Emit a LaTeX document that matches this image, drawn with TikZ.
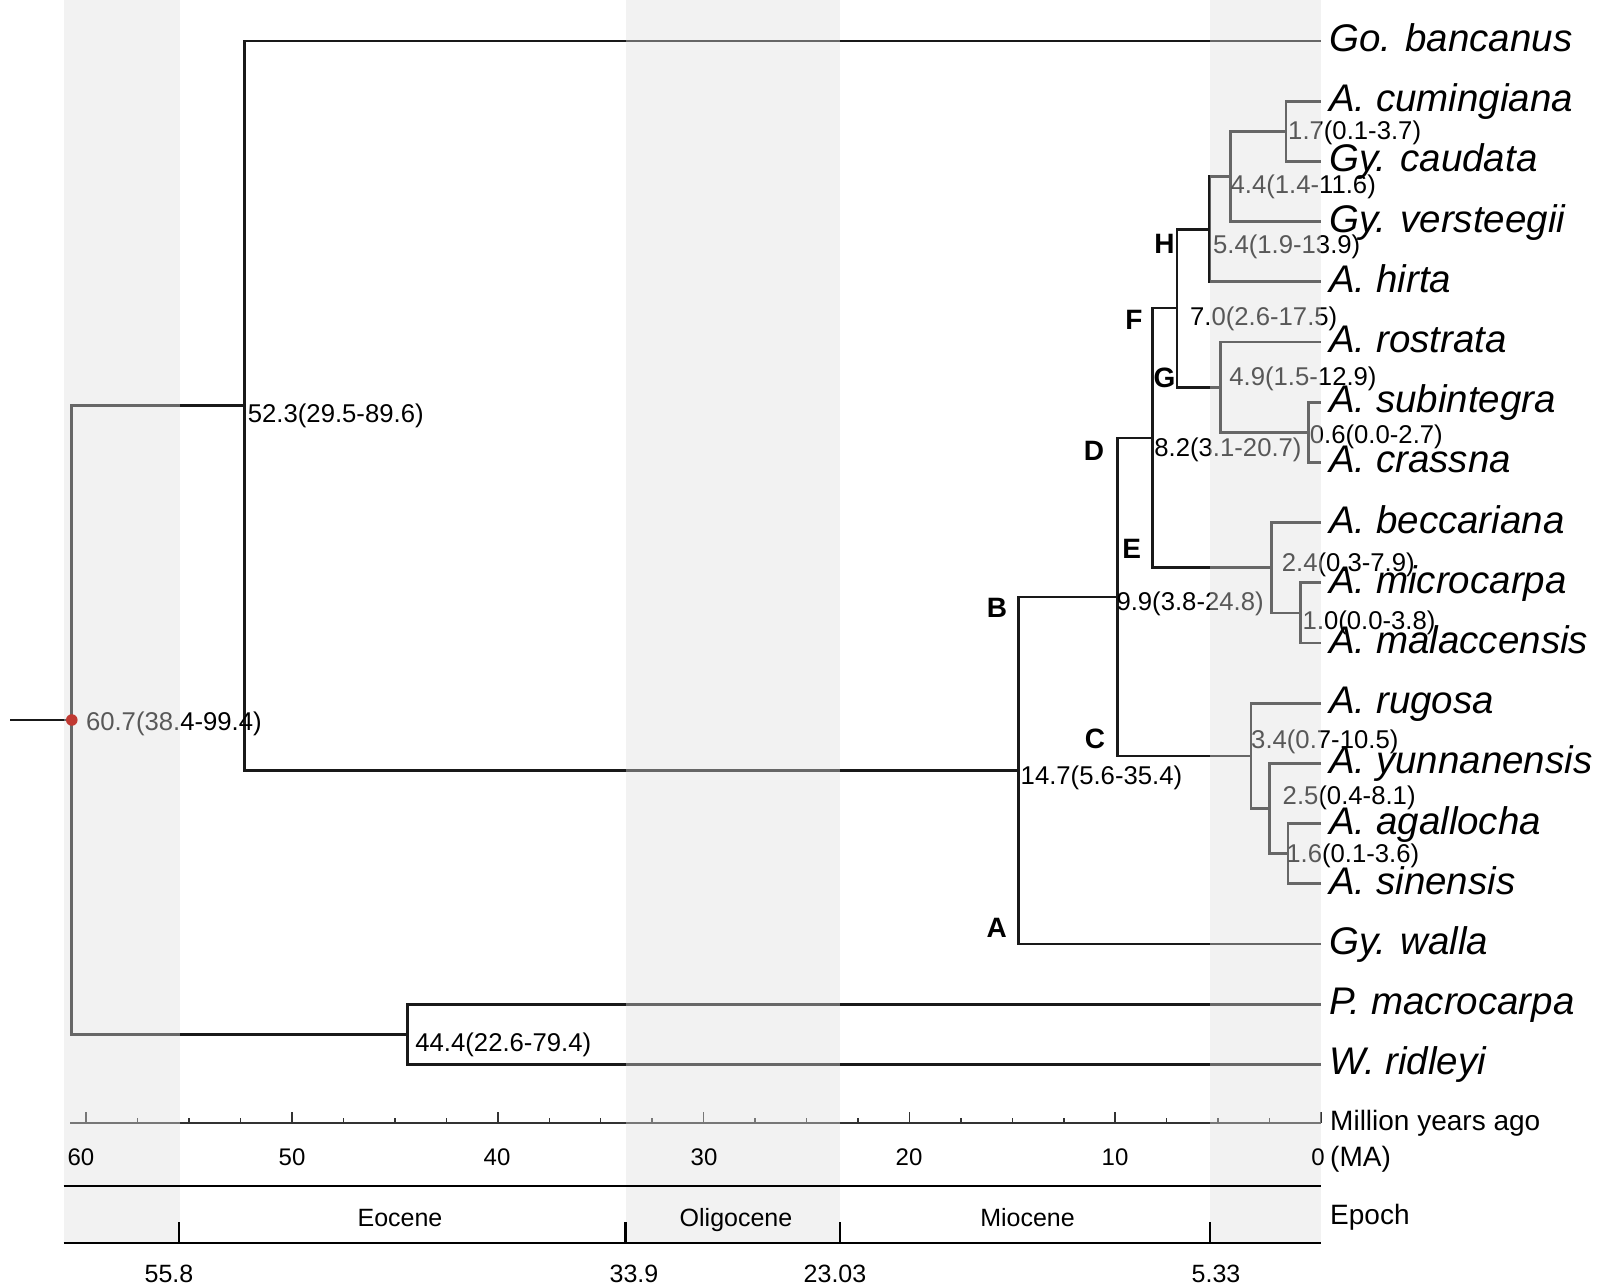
\documentclass[tikz,border=0pt]{standalone}
\usepackage{fontspec}
\setmainfont{Liberation Sans}
\definecolor{bandov}{gray}{0.87}
\definecolor{bandbg}{HTML}{F2F2F2}
\definecolor{dotred}{RGB}{192,57,50}
\begin{document}
\begin{tikzpicture}[x=1pt,y=-1pt,
  br/.style={line width=2.8pt, draw=black!90},
  tiplab/.style={anchor=base west, inner sep=0pt, font=\fontsize{38.5}{41}\selectfont\itshape},
  agelab/.style={anchor=base west, inner sep=0pt, font=\fontsize{25.7}{28}\selectfont},
  cladelab/.style={anchor=base, inner sep=0pt, font=\fontsize{28}{30}\selectfont\bfseries},
  axlab/.style={anchor=base, inner sep=0pt, font=\fontsize{24}{26}\selectfont},
  sidelab/.style={anchor=base west, inner sep=0pt, font=\fontsize{28}{30}\selectfont},
  eplab/.style={anchor=base, inner sep=0pt, font=\fontsize{25}{28}\selectfont},
  axline/.style={line width=1.5pt, draw=black!80},
  epline/.style={line width=2.2pt, draw=black},
  bandfill/.style={fill=bandbg, draw=none},
  bandover/.style={fill=bandov, fill opacity=0.4, draw=none}
]
\useasboundingbox (0,0) rectangle (1606,1287);

% lower (opaque) part of the bands
\fill[bandfill] (63.5,1138) rectangle (180,1243);
\fill[bandfill] (625.5,1138) rectangle (840,1243);
\fill[bandfill] (1210,1138) rectangle (1321,1243);

% tips
\coordinate (t0) at (1321,41);
\coordinate (t1) at (1321,101.2);
\coordinate (t2) at (1321,161.4);
\coordinate (t3) at (1321,221.6);
\coordinate (t4) at (1321,281.8);
\coordinate (t5) at (1321,342);
\coordinate (t6) at (1321,402.2);
\coordinate (t7) at (1321,462.4);
\coordinate (t8) at (1321,522.6);
\coordinate (t9) at (1321,582.8);
\coordinate (t10) at (1321,643);
\coordinate (t11) at (1321,703.2);
\coordinate (t12) at (1321,763.4);
\coordinate (t13) at (1321,823.6);
\coordinate (t14) at (1321,883.8);
\coordinate (t15) at (1321,944);
\coordinate (t16) at (1321,1004.2);
\coordinate (t17) at (1321,1064.4);

% internal nodes (x from age in Ma)
\coordinate (stub) at (10,720);
\coordinate (r)   at ({1321-20.58*60.7},720);
\coordinate (a)   at ({1321-20.58*52.3},405.7);
\coordinate (p44) at ({1321-20.58*44.4},1034.3);
\coordinate (b)   at ({1321-20.58*14.7},770.4);
\coordinate (c99) at ({1321-20.58*9.9},596.9);
\coordinate (d82) at ({1321-20.58*8.2},437.9);
\coordinate (f70) at ({1321-20.58*7.0},308);
\coordinate (h54) at ({1321-20.58*5.4},229.15);
\coordinate (n44) at ({1321-20.58*4.4},176.5);
\coordinate (n17) at ({1321-20.58*1.7},131.3);
\coordinate (g49) at ({1321-20.58*4.9},387.1);
\coordinate (n06) at ({1321-20.58*0.6},432.3);
\coordinate (e24) at ({1321-20.58*2.4},567.8);
\coordinate (n10) at ({1321-20.58*1.0},612.9);
\coordinate (c34) at ({1321-20.58*3.4},755.9);
\coordinate (n25) at ({1321-20.58*2.5},808.6);
\coordinate (n16) at ({1321-20.58*1.6},853.7);

% branches
\draw[br] (stub) -- (r);
\draw[br] (r) |- (a);
\draw[br] (r) |- (p44);
\draw[br] (a) |- (t0);
\draw[br] (a) |- (b);
\draw[br] (p44) |- (t16);
\draw[br] (p44) |- (t17);
\draw[br] (b) |- (c99);
\draw[br] (b) |- (t15);
\draw[br] (c99) |- (d82);
\draw[br] (c99) |- (c34);
\draw[br] (d82) |- (f70);
\draw[br] (d82) |- (e24);
\draw[br] (f70) |- (h54);
\draw[br] (f70) |- (g49);
\draw[br] (h54) |- (n44);
\draw[br] (h54) |- (t4);
\draw[br] (n44) |- (n17);
\draw[br] (n44) |- (t3);
\draw[br] (n17) |- (t1);
\draw[br] (n17) |- (t2);
\draw[br] (g49) |- (t5);
\draw[br] (g49) |- (n06);
\draw[br] (n06) |- (t6);
\draw[br] (n06) |- (t7);
\draw[br] (e24) |- (t8);
\draw[br] (e24) |- (n10);
\draw[br] (n10) |- (t9);
\draw[br] (n10) |- (t10);
\draw[br] (c34) |- (t11);
\draw[br] (c34) |- (n25);
\draw[br] (n25) |- (t12);
\draw[br] (n25) |- (n16);
\draw[br] (n16) |- (t13);
\draw[br] (n16) |- (t14);

% age labels
\node[agelab] (lr)   at (85.8,730)    {60.7(38.4-99.4)};
\node[agelab] (la)   at (247.7,422.7) {52.3(29.5-89.6)};
\node[agelab] (lp)   at (415.2,1051.3){44.4(22.6-79.4)};
\node[agelab] (lb)   at (1020.5,784.4){14.7(5.6-35.4)};
\node[agelab] (lc99) at (1116.3,610.9){9.9(3.8-24.8)};
\node[agelab] (ld82) at (1154.2,456.9){8.2(3.1-20.7)};
\node[agelab] (lf70) at (1189.9,325)  {7.0(2.6-17.5)};
\node[agelab] (lh54) at (1212.9,253.2){5.4(1.9-13.9)};
\node[agelab] (ln44) at (1230.4,193.5){4.4(1.4-11.6)};
\node[agelab] (ln17) at (1288,139.3)  {1.7(0.1-3.7)};
\node[agelab] (lg49) at (1229.2,385.1){4.9(1.5-12.9)};
\node[agelab] (ln06) at (1309.7,443.3){0.6(0.0-2.7)};
\node[agelab] (le24) at (1281.6,571.8){2.4(0.3-7.9)};
\node[agelab] (ln10) at (1302.4,629.9){1.0(0.0-3.8)};
\node[agelab] (lc34) at (1251,748.9)  {3.4(0.7-10.5)};
\node[agelab] (ln25) at (1282.5,804.6){2.5(0.4-8.1)};
\node[agelab] (ln16) at (1286.1,862.7){1.6(0.1-3.6)};

% clade letters
\node[cladelab] (cA) at (996.6,937)  {A};
\node[cladelab] (cB) at (997,617)    {B};
\node[cladelab] (cC) at (1095,748)   {C};
\node[cladelab] (cD) at (1094,460.6) {D};
\node[cladelab] (cE) at (1131.7,558) {E};
\node[cladelab] (cF) at (1133.8,329.5){F};
\node[cladelab] (cG) at (1164.5,387) {G};
\node[cladelab] (cH) at (1164.5,253.8){H};

% time axis
\coordinate (axL) at (70,1123);
\coordinate (axR) at (1321,1123);
\draw[axline] (axL) -- (axR);
\foreach \t in {0,2.5,...,60} {
  \draw[axline] ({1321-20.58*\t},1123) -- ++(0,-5);
}
\foreach \t in {0,10,...,60} {
  \draw[axline] ({1321-20.58*\t},1123) -- ++(0,-11);
}

% upper (overlay) part of the bands
\fill[bandover] (63.5,0) rectangle (180,1138);
\fill[bandover] (625.5,0) rectangle (840,1138);
\fill[bandover] (1210,0) rectangle (1321,1138);

% root dot
\fill[dotred] (r) circle (5.8);

% tip labels
\node[tiplab] (L0)  at (1329,51.5)  {Go. bancanus};
\node[tiplab] (L1)  at (1329,111.7) {A. cumingiana};
\node[tiplab] (L2)  at (1329,171.9) {Gy. caudata};
\node[tiplab] (L3)  at (1329,232.1) {Gy. versteegii};
\node[tiplab] (L4)  at (1329,292.3) {A. hirta};
\node[tiplab] (L5)  at (1329,352.5) {A. rostrata};
\node[tiplab] (L6)  at (1329,412.7) {A. subintegra};
\node[tiplab] (L7)  at (1329,472.9) {A. crassna};
\node[tiplab] (L8)  at (1329,533.1) {A. beccariana};
\node[tiplab] (L9)  at (1329,593.3) {A. microcarpa};
\node[tiplab] (L10) at (1329,653.5) {A. malaccensis};
\node[tiplab] (L11) at (1329,713.7) {A. rugosa};
\node[tiplab] (L12) at (1329,773.9) {A. yunnanensis};
\node[tiplab] (L13) at (1329,834.1) {A. agallocha};
\node[tiplab] (L14) at (1329,894.3) {A. sinensis};
\node[tiplab] (L15) at (1329,954.5) {Gy. walla};
\node[tiplab] (L16) at (1329,1014.7){P. macrocarpa};
\node[tiplab] (L17) at (1329,1074.9){W. ridleyi};

% axis labels
\node[axlab] (x60) at (81,1165.6)   {60};
\node[axlab] (x50) at (292,1165.6)  {50};
\node[axlab] (x40) at (497,1165.6)  {40};
\node[axlab] (x30) at (704,1165.6)  {30};
\node[axlab] (x20) at (909,1165.6)  {20};
\node[axlab] (x10) at (1115,1165.6) {10};
\node[axlab] (x0)  at (1318,1165.6) {0};
\node[sidelab] (mya) at (1330,1130) {Million years ago};
\node[sidelab] (ma)  at (1330,1166) {(MA)};
\node[sidelab] (epo) at (1330,1224) {Epoch};

% epoch bar
\coordinate (eTL) at (63.5,1186);
\coordinate (eTR) at (1321,1186);
\coordinate (eBL) at (63.5,1243);
\coordinate (eBR) at (1321,1243);
\draw[epline] (eTL) -- (eTR);
\draw[epline] (eBL) -- (eBR);
\foreach \x in {179,625.5,840,1210} {
  \draw[epline] (\x,1243) -- (\x,1222);
}
\node[eplab] (eo)  at (400,1226.5)  {Eocene};
\node[eplab] (ol)  at (736,1226.5)  {Oligocene};
\node[eplab] (mi)  at (1027.5,1226.5) {Miocene};
\node[eplab] (b1)  at (169,1282)    {55.8};
\node[eplab] (b2)  at (634,1282)    {33.9};
\node[eplab] (b3)  at (835,1282)    {23.03};
\node[eplab] (b4)  at (1216,1282)   {5.33};
\end{tikzpicture}
\end{document}
